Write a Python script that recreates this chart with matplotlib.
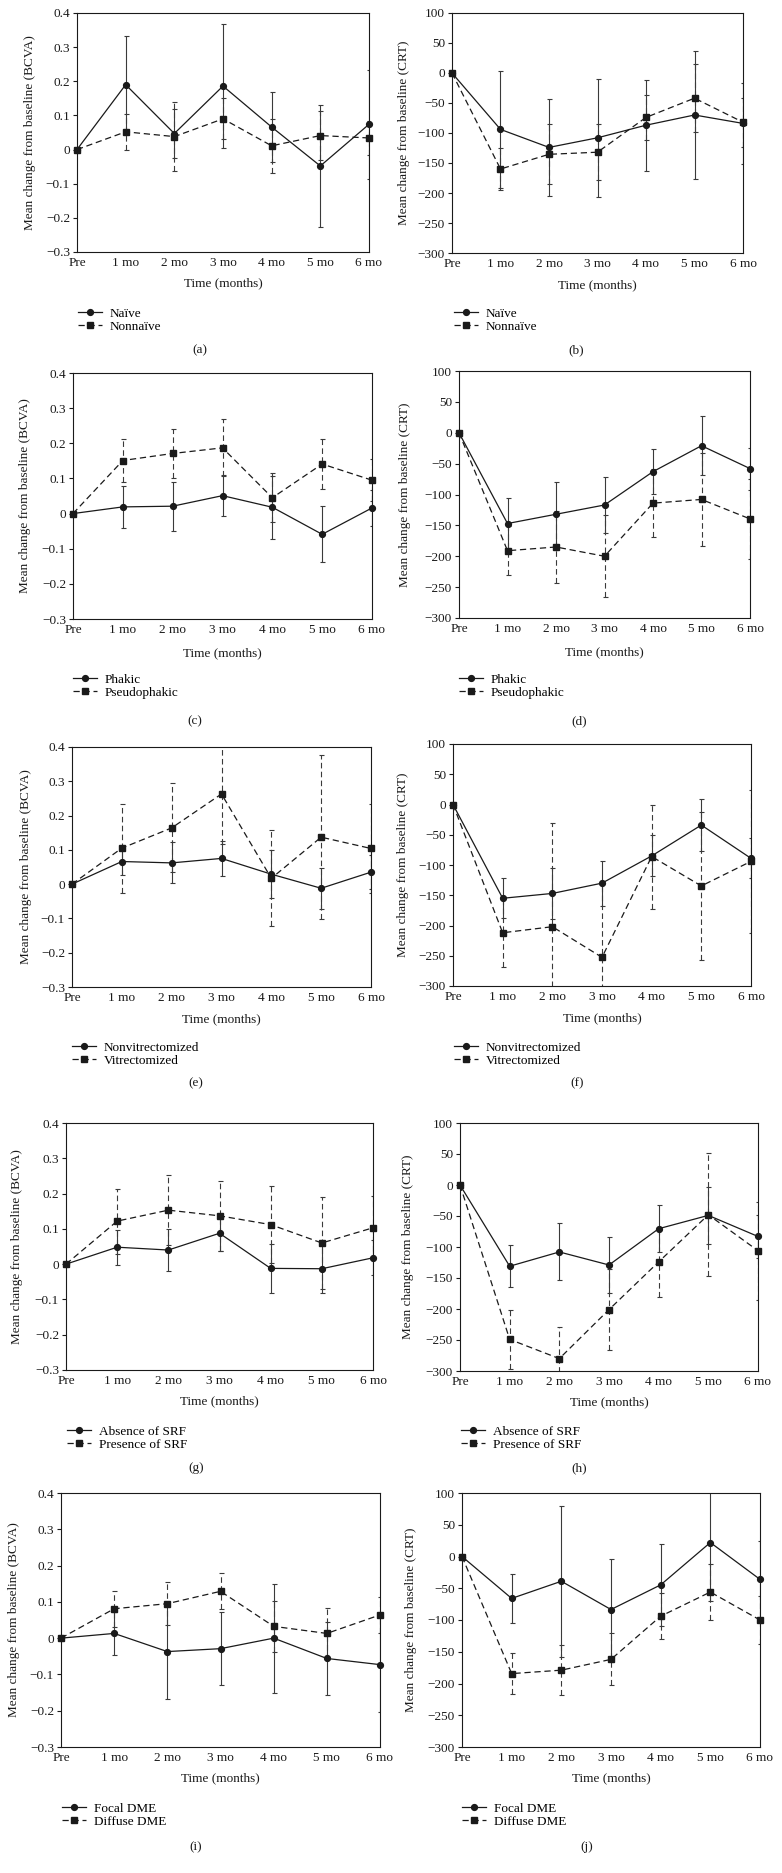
import matplotlib
matplotlib.use('Agg')
import matplotlib.pyplot as plt
import numpy as np

plt.rcParams['font.family'] = ['Liberation Serif', 'DejaVu Serif']
FS = 9.5
plt.rcParams['font.size'] = FS

# ---------------- data ----------------
months = ["Pre", "1 mo", "2 mo", "3 mo", "4 mo", "5 mo", "6 mo"]
bcva_ticks = [-0.3, -0.2, -0.1, 0.0, 0.1, 0.2, 0.3, 0.4]
bcva_ticklabels = ["\u22120.3", "\u22120.2", "\u22120.1", "0", "0.1", "0.2", "0.3", "0.4"]
crt_ticks = [-300, -250, -200, -150, -100, -50, 0, 50, 100]
crt_ticklabels = ["\u2212300", "\u2212250", "\u2212200", "\u2212150", "\u2212100", "\u221250", "0", "50", "100"]
bcva_ylabel = "Mean change from baseline (BCVA)"
crt_ylabel = "Mean change from baseline (CRT)"

# (a) BCVA naive / nonnaive
a_naive_mean = [0, 0.19, 0.047, 0.186, 0.066, -0.048, 0.074]
a_naive_err = [0.142, 0.072, 0.182, 0.102, 0.18, 0.16]
a_nonnaive_mean = [0, 0.052, 0.038, 0.09, 0.011, 0.041, 0.034]
a_nonnaive_err = [0.053, 0.10, 0.06, 0.08, 0.072, 0.05]
# (b) CRT naive / nonnaive
b_naive_mean = [0, -94, -124, -108, -87, -70, -84]
b_naive_err = [97, 81, 98, 76, 106, 68]
b_nonnaive_mean = [0, -160, -135.5, -132, -74, -42, -82]
b_nonnaive_err = [35, 50, 47, 37, 57, 41]
# (c) BCVA phakic / pseudophakic
c_phakic_mean = [0, 0.019, 0.021, 0.051, 0.018, -0.059, 0.016]
c_phakic_err = [0.06, 0.07, 0.059, 0.089, 0.08, 0.05]
c_pseudo_mean = [0, 0.151, 0.171, 0.187, 0.045, 0.141, 0.095]
c_pseudo_err = [0.06, 0.07, 0.081, 0.07, 0.07, 0.06]
# (d) CRT phakic / pseudophakic
d_phakic_mean = [0, -147, -132, -117, -63, -21, -58]
d_phakic_err = [41, 52, 45, 36, 48, 34]
d_pseudo_mean = [0, -191, -185, -200, -114, -108, -139.5]
d_pseudo_err = [40, 58.5, 66, 55, 75, 65]
# (e) BCVA nonvitrectomized / vitrectomized
e_nonvit_mean = [0, 0.066, 0.062, 0.075, 0.029, -0.012, 0.035]
e_nonvit_err = [0.04, 0.06, 0.05, 0.07, 0.06, 0.05]
e_vit_mean = [0, 0.105, 0.164, 0.263, 0.017, 0.137, 0.104]
e_vit_err = [0.13, 0.13, 0.147, 0.14, 0.24, 0.13]
# (f) CRT nonvitrectomized / vitrectomized
f_nonvit_mean = [0, -155, -147, -130, -85, -34, -89]
f_nonvit_err = [33, 41.5, 37, 34, 43, 33]
f_vit_mean = [0, -212, -202, -252.6, -86, -134.6, -94]
f_vit_err = [57, 172, 126, 86, 123, 118]
# (g) BCVA absence / presence of SRF
g_abs_mean = [0, 0.048, 0.04, 0.0875, -0.012, -0.013, 0.018]
g_abs_err = [0.05, 0.06, 0.05, 0.07, 0.07, 0.05]
g_pres_mean = [0, 0.122, 0.153, 0.137, 0.112, 0.06, 0.103]
g_pres_err = [0.092, 0.1, 0.1, 0.11, 0.13, 0.09]
# (h) CRT absence / presence of SRF
h_abs_mean = [0, -131, -108, -129, -70.5, -49, -83]
h_abs_err = [34, 46, 45, 38, 46, 35]
h_pres_mean = [0, -249, -280, -201, -124, -48, -106]
h_pres_err = [48, 51, 65, 57, 99, 79]
# (i) BCVA focal / diffuse DME
i_focal_mean = [0, 0.013, -0.037, -0.029, 0.0, -0.056, -0.073]
i_focal_err = [0.06, 0.13, 0.1, 0.15, 0.1, 0.13]
i_diffuse_mean = [0, 0.081, 0.095, 0.129, 0.0325, 0.013, 0.064]
i_diffuse_err = [0.05, 0.06, 0.05, 0.07, 0.07, 0.05]
# (j) CRT focal / diffuse DME
j_focal_mean = [0, -66, -39, -83.5, -44.7, 22, -36]
j_focal_err = [39, 119, 80, 64, 92, 60]
j_diffuse_mean = [0, -184.4, -179, -162, -94, -56, -100]
j_diffuse_err = [32, 39, 41, 36, 44, 38]

# ---------------- layout (pixels) ----------------
W, H = 782, 1873
fig = plt.figure(figsize=(W / 100, H / 100), dpi=100)

panels = [
    ("(a)", "bcva", "Na\u00efve", a_naive_mean, a_naive_err, "Nonna\u00efve", a_nonnaive_mean, a_nonnaive_err,
     (77, 369, 13, 252), 30, 283, (78, 320), (200, 350)),
    ("(b)", "crt", "Na\u00efve", b_naive_mean, b_naive_err, "Nonna\u00efve", b_nonnaive_mean, b_nonnaive_err,
     (452, 743, 13, 253), 404, 285, (454, 320), (576, 350)),
    ("(c)", "bcva", "Phakic", c_phakic_mean, c_phakic_err, "Pseudophakic", c_pseudo_mean, c_pseudo_err,
     (73, 372, 373, 619), 25, 653, (73, 686), (195, 721)),
    ("(d)", "crt", "Phakic", d_phakic_mean, d_phakic_err, "Pseudophakic", d_pseudo_mean, d_pseudo_err,
     (459, 750, 371, 618), 405, 652, (459, 686), (579, 721)),
    ("(e)", "bcva", "Nonvitrectomized", e_nonvit_mean, e_nonvit_err, "Vitrectomized", e_vit_mean, e_vit_err,
     (72, 371, 747, 987), 26, 1019, (72, 1054), (196, 1083)),
    ("(f)", "crt", "Nonvitrectomized", f_nonvit_mean, f_nonvit_err, "Vitrectomized", f_vit_mean, f_vit_err,
     (453, 751, 744, 986), 403, 1018, (454, 1054), (577, 1083)),
    ("(g)", "bcva", "Absence of SRF", g_abs_mean, g_abs_err, "Presence of SRF", g_pres_mean, g_pres_err,
     (66, 373, 1123, 1370), 17, 1401, (67, 1438), (196, 1468)),
    ("(h)", "crt", "Absence of SRF", h_abs_mean, h_abs_err, "Presence of SRF", h_pres_mean, h_pres_err,
     (460, 758, 1123, 1371), 408, 1402, (461, 1438), (579, 1468)),
    ("(i)", "bcva", "Focal DME", i_focal_mean, i_focal_err, "Diffuse DME", i_diffuse_mean, i_diffuse_err,
     (61, 380, 1493, 1747), 14, 1778, (62, 1815), (196, 1847)),
    ("(j)", "crt", "Focal DME", j_focal_mean, j_focal_err, "Diffuse DME", j_diffuse_mean, j_diffuse_err,
     (462, 760, 1493, 1747), 411, 1778, (462, 1815), (587, 1847)),
]

INK = '#1a1a1a'
ECOL = '#3a3a3a'
DASH = (0, (5, 3))

for (tag, kind, n1, m1, e1, n2, m2, e2, (L, R, T, B), ylx, xly, (lgx, lgy), (tx, ty)) in panels:
    ax = fig.add_axes([L / W, 1 - B / H, (R - L) / W, (B - T) / H])
    x = np.arange(len(months))

    eb1 = ax.errorbar(x[1:], m1[1:], yerr=e1, fmt='none', ecolor=ECOL,
                      elinewidth=0.8, capsize=1.8, capthick=0.8, zorder=2)
    eb2 = ax.errorbar(x[1:], m2[1:], yerr=e2, fmt='none', ecolor=ECOL,
                      elinewidth=0.8, capsize=1.8, capthick=0.8, zorder=2)
    for lc in eb2[2]:
        lc.set_linestyle(DASH)

    l1, = ax.plot(x, m1, linestyle='-', marker='o', ms=4.2, color=INK, lw=0.9,
                  clip_on=False, zorder=4, label=n1)
    l2, = ax.plot(x, m2, linestyle=DASH, marker='s', ms=4.2, color=INK, lw=0.9,
                  clip_on=False, zorder=3, label=n2)

    ax.set_xlim(0, 6)
    ax.set_xticks(x, months)
    if kind == "bcva":
        ax.set_ylim(-0.3, 0.4)
        ax.set_yticks(bcva_ticks, bcva_ticklabels)
        ylabel = bcva_ylabel
    else:
        ax.set_ylim(-300, 100)
        ax.set_yticks(crt_ticks, crt_ticklabels)
        ylabel = crt_ylabel

    ax.tick_params(axis='x', length=0, pad=3.5, labelsize=FS, colors=INK)
    ax.tick_params(axis='y', direction='out', length=3, width=0.8, pad=2, labelsize=FS, colors=INK)
    for sp in ax.spines.values():
        sp.set_linewidth(0.8)
        sp.set_color(INK)

    ax.set_xlabel("Time (months)", fontsize=FS, va='center', color=INK)
    ax.xaxis.set_label_coords(0.5, -(xly - B) / (B - T))
    ax.set_ylabel(ylabel, fontsize=FS, va='center', ha='center', color=INK)
    ax.yaxis.set_label_coords((ylx - L) / (R - L), 0.5)

    ax.legend(handles=[l1, l2], labels=[n1, n2], loc='center left',
              bbox_to_anchor=(lgx / W, 1 - lgy / H), bbox_transform=fig.transFigure,
              frameon=False, borderpad=0, borderaxespad=0, handlelength=1.8,
              handletextpad=0.6, labelspacing=0.05, fontsize=FS)

    fig.text(tx / W, 1 - ty / H, tag, ha='center', va='center', fontsize=FS, color=INK)

fig.savefig('out.png', dpi=100, facecolor='white')
